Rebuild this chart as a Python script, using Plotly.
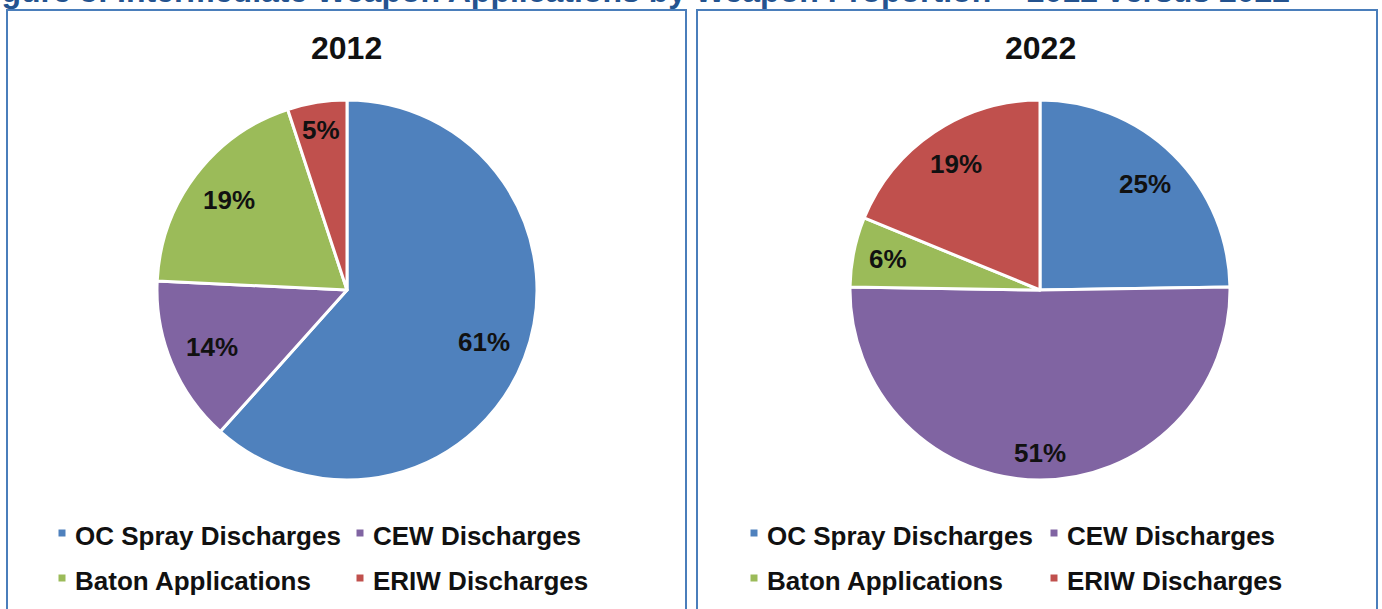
import math
import plotly.graph_objects as go

# ---- data ----
categories = ["OC Spray Discharges", "CEW Discharges", "Baton Applications", "ERIW Discharges"]
colors = ["#4F81BD", "#8064A2", "#9BBB59", "#C0504D"]
years = ["2012", "2022"]
values_2012 = [61, 14, 19, 5]
values_2022 = [25, 51, 6, 19]
fig_title = "Figure 5: Intermediate Weapon Applications by Weapon Proportion \u2013 2012 versus 2022"

W, H = 1382, 609
FONT = "Arial, Liberation Sans, sans-serif"
LABEL_SIZE = 26


def px(x):
    return x / W


def py(y):
    return 1 - y / H


panels = [
    dict(year=years[0], values=values_2012, cx=347, cy=290, box=(7, 686), leg_x=(62, 360)),
    dict(year=years[1], values=values_2022, cx=1040, cy=290, box=(697, 1377), leg_x=(754, 1054)),
]
R = 190

fig = go.Figure()
shapes = []
annotations = []

for p in panels:
    vals = p["values"]
    fig.add_trace(go.Pie(
        labels=categories,
        values=vals,
        textinfo="none",
        marker=dict(colors=colors, line=dict(color="white", width=3)),
        sort=False,
        direction="clockwise",
        rotation=0,
        showlegend=False,
        hovertemplate="%{label}: %{value}%<extra></extra>",
        domain=dict(x=[px(p["cx"] - R), px(p["cx"] + R)], y=[py(p["cy"] + R), py(p["cy"] - R)]),
    ))

    # data labels, "best fit" style: text box pushed out until its far corner reaches 0.92 R
    total = float(sum(vals))
    cum = 0.0
    for v in vals:
        mid = (cum + v / 2.0) / total * 2 * math.pi
        cum += v
        ux, uy = math.sin(mid), -math.cos(mid)
        txt = f"{v}%"
        hw = 0.34 * LABEL_SIZE * len(txt)
        hh = 0.36 * LABEL_SIZE
        sx = math.copysign(hw, ux)
        sy = math.copysign(hh, uy)
        rr = 0.92 * R
        b = ux * sx + uy * sy
        d = -b + math.sqrt(max(b * b - (sx * sx + sy * sy - rr * rr), 0))
        lx = p["cx"] + d * ux
        ly = p["cy"] + d * uy
        annotations.append(dict(text=f"<b>{txt}</b>", x=px(lx), y=py(ly), xref="paper", yref="paper",
                                xanchor="center", yanchor="middle", showarrow=False,
                                font=dict(family=FONT, size=LABEL_SIZE, color="#111111")))

    # panel box
    shapes.append(dict(type="rect", xref="paper", yref="paper",
                       x0=px(p["box"][0]), x1=px(p["box"][1]), y0=py(640), y1=py(10),
                       line=dict(color="#4A7EBB", width=2), fillcolor="rgba(0,0,0,0)", layer="below"))
    # panel title
    annotations.append(dict(text=f"<b>{p['year']}</b>", x=px(p["cx"]), y=py(48), xref="paper", yref="paper",
                            xanchor="center", yanchor="middle", showarrow=False,
                            font=dict(family=FONT, size=32, color="#111111")))
    # legend (2 x 2)
    for i, (cat, col) in enumerate(zip(categories, colors)):
        r, c = divmod(i, 2)
        mx = p["leg_x"][c]
        my = 533 + 45 * r
        shapes.append(dict(type="rect", xref="paper", yref="paper",
                           x0=px(mx - 3.5), x1=px(mx + 3.5), y0=py(my + 3.5), y1=py(my - 3.5),
                           line=dict(width=0), fillcolor=col))
        annotations.append(dict(text=f"<b>{cat}</b>", x=px(mx + 11), y=py(my + 3), xref="paper", yref="paper",
                                xanchor="left", yanchor="middle", showarrow=False,
                                font=dict(family=FONT, size=26, color="#111111")))

# clipped figure title at the very top
annotations.append(dict(text=f"<b>{fig_title}</b>", x=px(1292), y=py(11), xref="paper", yref="paper",
                        xanchor="right", yanchor="bottom", showarrow=False,
                        font=dict(family=FONT, size=32, color="#24538F")))

fig.update_layout(
    width=W, height=H,
    margin=dict(l=0, r=0, t=0, b=0),
    paper_bgcolor="white", plot_bgcolor="white",
    shapes=shapes, annotations=annotations,
    showlegend=False,
)

fig.write_html("out.html", config={"displayModeBar": False},
               post_script="document.body.style.margin='0';document.body.style.overflow='hidden';")
